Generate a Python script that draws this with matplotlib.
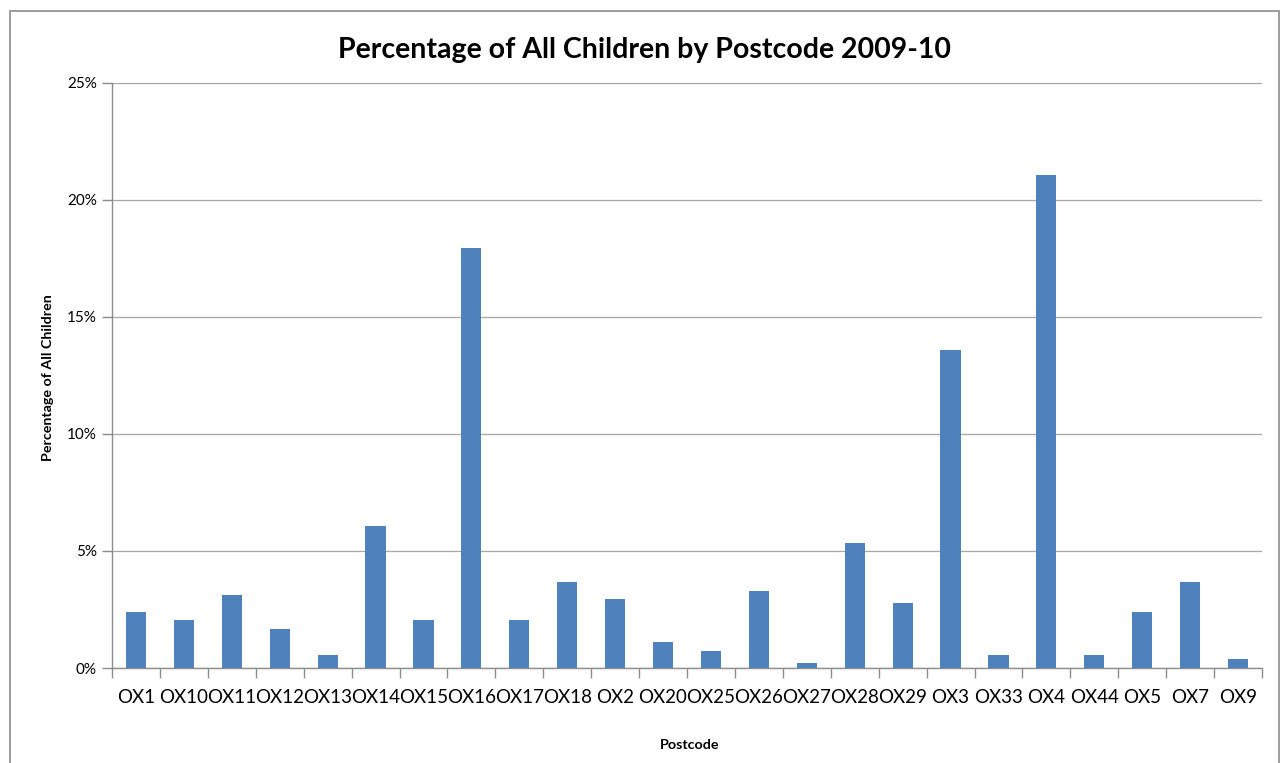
import matplotlib
matplotlib.use("Agg")
import matplotlib.pyplot as plt
from matplotlib.patches import Rectangle
from matplotlib.ticker import FuncFormatter, FixedLocator, NullFormatter

postcodes = ["OX1", "OX10", "OX11", "OX12", "OX13", "OX14", "OX15", "OX16", "OX17", "OX18",
             "OX2", "OX20", "OX25", "OX26", "OX27", "OX28", "OX29", "OX3", "OX33", "OX4",
             "OX44", "OX5", "OX7", "OX9"]
percent = [2.39, 2.05, 3.12, 1.67, 0.56, 6.07, 2.05, 17.95, 2.05, 3.67,
           2.95, 1.11, 0.73, 3.29, 0.21, 5.34, 2.78, 13.59, 0.56, 21.07,
           0.56, 2.39, 3.67, 0.38]
yticks = [0, 5, 10, 15, 20, 25]

W, H = 1285, 763
fig = plt.figure(figsize=(W / 100, H / 100), dpi=100)
plt.rcParams['font.family'] = ['Lato', 'DejaVu Sans']

# outer chart frame
fig.patches.append(Rectangle((10 / W, -0.05), (1279 - 10) / W, 1 - 11 / H + 0.05,
                             transform=fig.transFigure, fill=False,
                             edgecolor="#8c8c8c", linewidth=1.2))

ax = fig.add_axes([112 / W, 1 - 668 / H, (1262 - 112) / W, (668 - 83) / H])
x = list(range(len(postcodes)))
ax.bar(x, percent, width=0.42, color="#4f81bd", zorder=3)
ax.set_xlim(-0.5, len(postcodes) - 0.5)
ax.set_ylim(0, 25)
ax.set_yticks(yticks)
ax.yaxis.set_major_formatter(FuncFormatter(lambda v, p: f"{int(v)}%"))
ax.grid(axis="y", color="#a6a6a6", linewidth=0.9, zorder=0)
ax.set_xticks(x)
ax.set_xticklabels(postcodes, fontsize=13.5)
ax.tick_params(axis="x", length=0, pad=15)
# minor ticks between categories
ax.xaxis.set_minor_locator(FixedLocator([i - 0.5 for i in range(len(postcodes) + 1)]))
ax.xaxis.set_minor_formatter(NullFormatter())
ax.tick_params(axis="x", which="minor", length=7, color="#8c8c8c", width=1)
ax.tick_params(axis="y", length=7, color="#8c8c8c", width=1, labelsize=11, pad=4)
for s in ["top", "right"]:
    ax.spines[s].set_visible(False)
for s in ["left", "bottom"]:
    ax.spines[s].set_color("#8c8c8c")
    ax.spines[s].set_linewidth(1)

fig.text(645 / W, 1 - 50 / H, "Percentage of All Children by Postcode 2009-10",
         ha="center", va="center", fontsize=20.5, fontweight="bold")
fig.text(48 / W, 1 - 378 / H, "Percentage of All Children", rotation=90,
         ha="center", va="center", fontsize=10.3, fontweight="bold")
fig.text(690 / W, 1 - 745 / H, "Postcode", ha="center", va="center",
         fontsize=10.3, fontweight="bold")

fig.savefig("out.png", dpi=100)
